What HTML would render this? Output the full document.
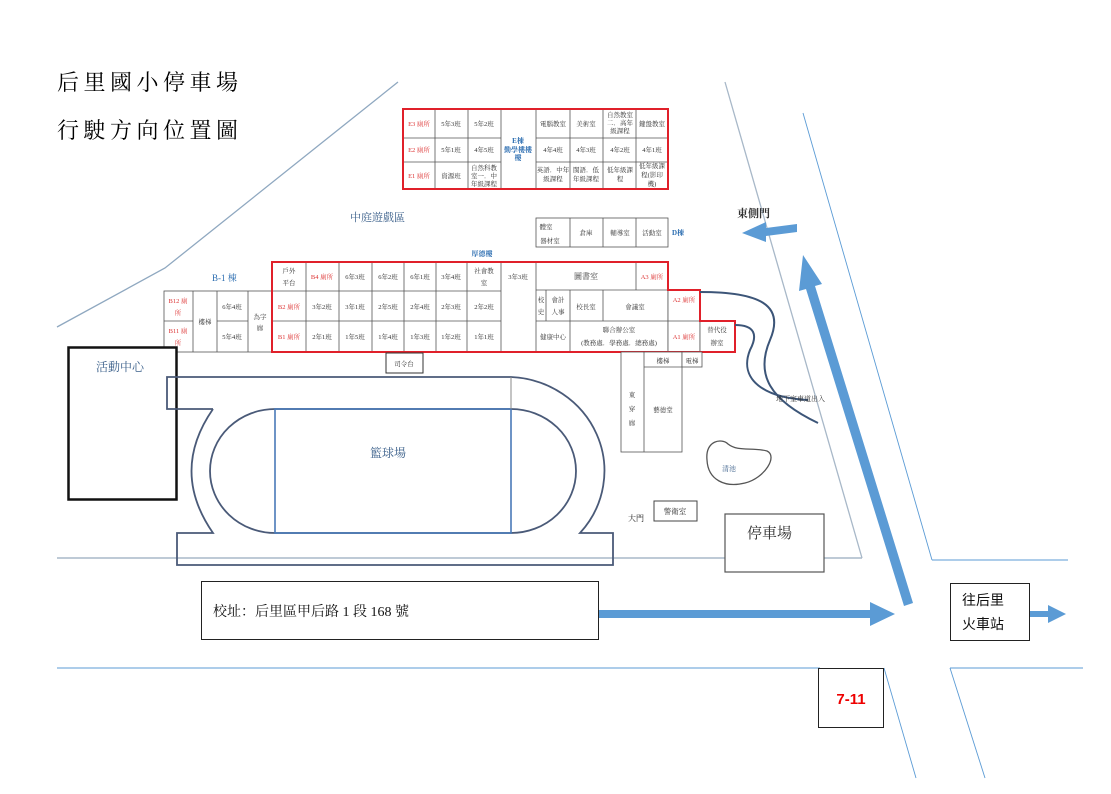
<!DOCTYPE html>
<html><head><meta charset="utf-8">
<style>
html,body{margin:0;padding:0;background:#fff;}
svg{display:block;}
text{font-family:"Liberation Serif","Noto Serif CJK SC","Noto Sans CJK TC",serif;}
.c{font-size:6.5px;fill:#333;text-anchor:middle;}
.r{font-size:6.5px;fill:#d33;text-anchor:middle;}
.b{font-size:7px;fill:#2a6cb0;text-anchor:middle;font-weight:bold;}
.s{font-family:"Liberation Sans","Noto Sans CJK TC",sans-serif;}
</style></head><body>
<svg width="1111" height="794" viewBox="0 0 1111 794" xmlns="http://www.w3.org/2000/svg">
<rect width="1111" height="794" fill="#fff"/>
<text x="57" y="90" font-size="22" letter-spacing="4.5" fill="#000">后里國小停車場</text>
<text x="57" y="138" font-size="22" letter-spacing="4.5" fill="#000">行駛方向位置圖</text>

<polyline points="57,327 165,268 398,82" fill="none" stroke="#8fa8c0" stroke-width="1.3"/>
<line x1="725" y1="82" x2="862" y2="558" stroke="#a8b8c8" stroke-width="1.3"/>
<line x1="57" y1="558" x2="862" y2="558" stroke="#a8b8c8" stroke-width="1.5"/>

<g stroke="#5b9bd5" stroke-width="0.9" fill="none">
<line x1="803" y1="113" x2="932" y2="560"/>
<line x1="932" y1="560" x2="1068" y2="560"/>
<line x1="57" y1="668" x2="820" y2="668"/>
<line x1="950" y1="668" x2="1083" y2="668"/>
<line x1="884" y1="668" x2="916" y2="778"/>
<line x1="950" y1="668" x2="985" y2="778"/>
</g>

<g stroke="#555" stroke-width="0.8" fill="#fff">
<rect x="403" y="109" width="265" height="80"/>
<line x1="435" y1="109" x2="435" y2="189"/><line x1="468" y1="109" x2="468" y2="189"/>
<line x1="501" y1="109" x2="501" y2="189"/><line x1="536" y1="109" x2="536" y2="189"/>
<line x1="570" y1="109" x2="570" y2="189"/><line x1="603" y1="109" x2="603" y2="189"/>
<line x1="636" y1="109" x2="636" y2="189"/>
<line x1="403" y1="138" x2="501" y2="138"/><line x1="536" y1="138" x2="668" y2="138"/>
<line x1="403" y1="162" x2="501" y2="162"/><line x1="536" y1="162" x2="668" y2="162"/>
</g>
<rect x="403" y="109" width="265" height="80" fill="none" stroke="#e0202a" stroke-width="2"/>
<text class="r" x="419" y="126">E3 廁所</text><text class="r" x="419" y="152">E2 廁所</text><text class="r" x="419" y="178">E1 廁所</text>
<text class="c" x="451" y="126">5年3班</text><text class="c" x="451" y="152">5年1班</text><text class="c" x="451" y="178">資源班</text>
<text class="c" x="484" y="126">5年2班</text><text class="c" x="484" y="152">4年5班</text>
<text class="c" x="484" y="170">自然科教</text><text class="c" x="484" y="178">室一．中</text><text class="c" x="484" y="186">年級課程</text>
<text class="b" x="518" y="143">E棟</text><text class="b" x="518" y="152">勤學樓樓</text><text class="b" x="518" y="160">樓</text>
<text class="c" x="553" y="126">電腦教室</text><text class="c" x="553" y="152">4年4班</text>
<text class="c" x="553" y="172">英語．中年</text><text class="c" x="553" y="181">級課程</text>
<text class="c" x="586" y="126">美術室</text><text class="c" x="586" y="152">4年3班</text>
<text class="c" x="586" y="172">閩語．低</text><text class="c" x="586" y="181">年級課程</text>
<text class="c" x="620" y="117">自然教室</text><text class="c" x="620" y="125">二．高年</text><text class="c" x="620" y="133">級課程</text>
<text class="c" x="620" y="152">4年2班</text>
<text class="c" x="620" y="172">低年級課</text><text class="c" x="620" y="181">程</text>
<text class="c" x="652" y="126">鍵盤教室</text><text class="c" x="652" y="152">4年1班</text>
<text class="c" x="652" y="168">低年級課</text><text class="c" x="652" y="177">程(影印</text><text class="c" x="652" y="186">機)</text>

<g stroke="#555" stroke-width="0.8" fill="#fff">
<rect x="536" y="218" width="132" height="29"/>
<line x1="570" y1="218" x2="570" y2="247"/><line x1="603" y1="218" x2="603" y2="247"/><line x1="636" y1="218" x2="636" y2="247"/>
</g>
<text class="c" x="546" y="229">體室</text><text class="c" x="550" y="243">器材室</text>
<text class="c" x="586" y="235">倉庫</text><text class="c" x="620" y="235">輔導室</text><text class="c" x="652" y="235">活動室</text>
<text class="b" x="678" y="235">D棟</text>

<text x="350" y="221" font-size="11" fill="#3a5f8a">中庭遊戲區</text>
<text x="212" y="281" font-size="9" fill="#2a6cb0">B-1 棟</text>
<text class="b" x="482" y="256">厚德樓</text>

<g stroke="#555" stroke-width="0.8" fill="#fff">
<rect x="164" y="291" width="108" height="61"/>
<line x1="193" y1="291" x2="193" y2="352"/><line x1="217" y1="291" x2="217" y2="352"/><line x1="248" y1="291" x2="248" y2="352"/>
<line x1="164" y1="321" x2="193" y2="321"/><line x1="217" y1="321" x2="248" y2="321"/>
</g>
<text class="r" x="178" y="303">B12 廁</text><text class="r" x="178" y="315">所</text>
<text class="r" x="178" y="333">B11 廁</text><text class="r" x="178" y="345">所</text>
<text class="c" x="205" y="324">樓梯</text>
<text class="c" x="232" y="309">6年4班</text><text class="c" x="232" y="339">5年4班</text>
<text class="c" x="260" y="319">為字</text><text class="c" x="260" y="330">廊</text>

<g stroke="#555" stroke-width="0.8" fill="#fff">
<rect x="272" y="262" width="396" height="90"/>
<rect x="668" y="290" width="32" height="62"/>
<rect x="700" y="321" width="35" height="31"/>
<line x1="306" y1="262" x2="306" y2="352"/><line x1="339" y1="262" x2="339" y2="352"/>
<line x1="372" y1="262" x2="372" y2="352"/><line x1="404" y1="262" x2="404" y2="352"/>
<line x1="436" y1="262" x2="436" y2="352"/><line x1="467" y1="262" x2="467" y2="352"/>
<line x1="501" y1="262" x2="501" y2="352"/><line x1="536" y1="262" x2="536" y2="352"/>
<line x1="636" y1="262" x2="636" y2="290"/>
<line x1="272" y1="291" x2="501" y2="291"/><line x1="536" y1="290" x2="668" y2="290"/>
<line x1="272" y1="321" x2="501" y2="321"/><line x1="536" y1="321" x2="700" y2="321"/>
<line x1="546" y1="290" x2="546" y2="321"/><line x1="570" y1="290" x2="570" y2="352"/>
<line x1="603" y1="290" x2="603" y2="321"/>
</g>
<path d="M272,262 H668 V290 H700 V321 H735 V352 H272 Z" fill="none" stroke="#e0202a" stroke-width="2"/>
<text class="c" x="289" y="273">戶外</text><text class="c" x="289" y="285">平台</text>
<text class="r" x="322" y="279">B4 廁所</text>
<text class="c" x="355" y="279">6年3班</text><text class="c" x="388" y="279">6年2班</text>
<text class="c" x="420" y="279">6年1班</text><text class="c" x="451" y="279">3年4班</text>
<text class="c" x="484" y="273">社會教</text><text class="c" x="484" y="285">室</text>
<text class="c" x="518" y="279">3年3班</text>
<text class="c" x="586" y="279" style="font-size:8px">圖書室</text>
<text class="r" x="652" y="279">A3 廁所</text>
<text class="r" x="289" y="309">B2 廁所</text>
<text class="c" x="322" y="309">3年2班</text><text class="c" x="355" y="309">3年1班</text>
<text class="c" x="388" y="309">2年5班</text><text class="c" x="420" y="309">2年4班</text>
<text class="c" x="451" y="309">2年3班</text><text class="c" x="484" y="309">2年2班</text>
<text class="c" x="541" y="302">校</text><text class="c" x="541" y="314">史</text>
<text class="c" x="558" y="302">會計</text><text class="c" x="558" y="314">人事</text>
<text class="c" x="586" y="309">校長室</text>
<text class="c" x="635" y="309">會議室</text>
<text class="r" x="684" y="302">A2 廁所</text>
<text class="r" x="289" y="339">B1 廁所</text>
<text class="c" x="322" y="339">2年1班</text><text class="c" x="355" y="339">1年5班</text>
<text class="c" x="388" y="339">1年4班</text><text class="c" x="420" y="339">1年3班</text>
<text class="c" x="451" y="339">1年2班</text><text class="c" x="484" y="339">1年1班</text>
<text class="c" x="553" y="339">健康中心</text>
<text class="c" x="619" y="332">聯合辦公室</text>
<text class="c" x="619" y="345">(教務處．學務處．總務處)</text>
<text class="r" x="684" y="339">A1 廁所</text>
<text class="c" x="717" y="332">替代役</text><text class="c" x="717" y="345">辦室</text>

<g stroke="#555" stroke-width="0.8" fill="#fff">
<rect x="621" y="352" width="61" height="100"/>
<line x1="644" y1="352" x2="644" y2="452"/>
<line x1="644" y1="367" x2="682" y2="367"/>
<rect x="682" y="352" width="20" height="15"/>
</g>
<text class="c" x="663" y="363">樓梯</text><text class="c" x="692" y="363">電梯</text>
<text class="c" x="632" y="397">東</text><text class="c" x="632" y="411">穿</text><text class="c" x="632" y="425">廊</text>
<text class="c" x="663" y="412">藝德堂</text>

<rect x="386" y="353" width="37" height="20" fill="#fff" stroke="#333" stroke-width="1"/>
<text class="c" x="404" y="366">司令台</text>

<rect x="68.5" y="347.5" width="108" height="152" fill="#fff" stroke="#111" stroke-width="2.5"/>
<text x="96" y="371" font-size="12" fill="#3a5f8a">活動中心</text>

<g fill="none" stroke="#4a5a78" stroke-width="1.8">
<path d="M213,409 H167 V377 H511 A98,94 0 0 1 580,533 H613 V565 H177 V533 H213 Q170,471 213,409"/>
<path d="M275,409 H511 A65,62 0 0 1 511,533 H275 A65,62 0 0 1 275,409 Z"/>
</g>
<rect x="275" y="409" width="236" height="124" fill="none" stroke="#4a7ab8" stroke-width="1.6"/>
<line x1="511" y1="377" x2="511" y2="409" stroke="#888" stroke-width="1"/>
<text x="370" y="457" font-size="12" fill="#3a5f8a">籃球場</text>

<g fill="none" stroke="#3c5578" stroke-width="2">
<path d="M700,292 C760,292 785,305 770,340 C755,375 770,400 818,423"/>
<path d="M735,325 C755,325 758,335 750,350 C738,380 765,398 808,400"/>
</g>
<text x="776" y="401" font-size="7" fill="#333">地下室車道出入</text>

<path d="M707,460 C705,440 722,438 728,444 C738,452 752,447 767,451 C778,456 765,478 745,483 C725,488 708,480 707,460 Z" fill="none" stroke="#555" stroke-width="1.3"/>
<text x="722" y="471" font-size="7" fill="#3a5f8a">清池</text>

<text x="628" y="521" font-size="8" fill="#222">大門</text>
<rect x="654" y="501" width="43" height="20" fill="#fff" stroke="#444" stroke-width="1"/>
<text class="c" x="675" y="514" style="font-size:7.5px">警衛室</text>

<rect x="725" y="514" width="99" height="58" fill="#fff" stroke="#555" stroke-width="1.2"/>
<text x="747" y="538" font-size="15" fill="#333">停車場</text>

<text x="737" y="217" font-size="11" font-weight="bold" fill="#333">東側門</text>
<polygon points="742,233 766,222 766,228 797,224 797,232 766,236 766,242" fill="#5b9bd5"/>

<polygon points="803,255 822,284 815,286 913,603 904,606 806,289 799,291" fill="#5b9bd5"/>

<polygon points="598,610 870,610 870,602 895,614 870,626 870,618 598,618" fill="#5b9bd5"/>

<rect x="201.5" y="581.5" width="397" height="58" fill="#fff" stroke="#222" stroke-width="1"/>
<text x="213" y="616" font-size="14" fill="#111">校址：后里區甲后路 1 段 168 號</text>

<rect x="950.5" y="583.5" width="79" height="57" fill="#fff" stroke="#222" stroke-width="1"/>
<text class="s" x="962" y="605" font-size="14" fill="#111">往后里</text>
<text class="s" x="962" y="629" font-size="14" fill="#111">火車站</text>
<polygon points="1030,611 1048,611 1048,605 1066,614 1048,623 1048,617 1030,617" fill="#5b9bd5"/>

<rect x="818.5" y="668.5" width="65" height="59" fill="#fff" stroke="#222" stroke-width="1"/>
<text class="s" x="851" y="704" font-size="15" font-weight="bold" fill="#e00" text-anchor="middle">7-11</text>
</svg>
</body></html>
